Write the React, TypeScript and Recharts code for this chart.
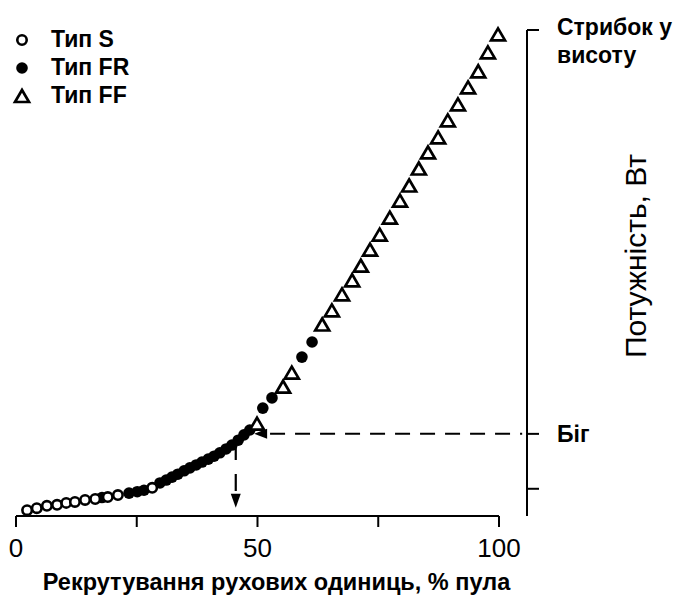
import { ScatterChart, Scatter, XAxis, YAxis, ReferenceLine, ReferenceDot, Legend } from 'recharts'

// Рекрутування, % пула (x) та потужність (y, умовні одиниці)
const sX = [2.3, 4.3, 6.4, 8.5, 10.4, 12.2, 14.3, 16.4, 19.0, 21.1, 28.2]
const sY = [1.2, 1.6, 2.1, 2.3, 2.7, 2.9, 3.3, 3.5, 3.9, 4.3, 5.8]

const frX = [17.8, 23.4, 25.1, 26.5, 29.8, 31.1, 32.3, 33.5, 34.8, 36.0, 37.3, 38.5, 39.8, 41.0, 42.2, 43.5, 44.7, 46.0, 47.2, 48.4, 51.1, 53.0, 59.2, 61.3]
const frY = [3.8, 4.7, 5.0, 5.3, 6.8, 7.4, 8.0, 8.6, 9.3, 9.9, 10.5, 11.1, 11.7, 12.3, 13.0, 13.8, 14.6, 15.6, 16.7, 17.7, 22.2, 24.3, 32.7, 35.8]

const ffX = [49.9, 55.3, 57.1, 63.4, 65.4, 67.5, 69.6, 71.4, 73.3, 75.3, 77.4, 79.5, 81.4, 83.4, 85.3, 87.4, 89.4, 91.5, 93.6, 95.7, 97.7, 99.8]
const ffY = [18.9, 26.5, 29.4, 39.3, 42.2, 45.5, 48.4, 51.4, 54.7, 57.8, 61.3, 64.8, 67.9, 71.4, 74.7, 77.8, 81.3, 84.6, 88.1, 91.4, 95.3, 99.0]

const xTicks = [0, 25, 50, 75, 100]
const xTickLabels = ['0', '', '50', '', '100']
const powerTicks = [5.6, 16.9, 100]
const powerLabels = [[''], ['Біг'], ['Стрибок у', 'висоту']]
const seriesNames = ['Тип S', 'Тип FR', 'Тип FF']

// точка, з якої показано рекрутування під час бігу
const runX = 45.5
const runY = 16.9

const toPoints = (xs: number[], ys: number[]) => xs.map((x, i) => ({ x, y: ys[i] }))

const font = '"Liberation Sans", Arial, sans-serif'

const OpenCircle = (p: any) => <circle cx={p.cx} cy={p.cy} r={4.7} fill="#fff" stroke="#000" strokeWidth={2.6} />
const FilledCircle = (p: any) => <circle cx={p.cx} cy={p.cy} r={5.8} fill="#000" />
const Triangle = (p: any) => (
  <polygon
    points={`${p.cx},${p.cy - 6.5} ${p.cx - 7},${p.cy + 5.5} ${p.cx + 7},${p.cy + 5.5}`}
    fill="#fff"
    stroke="#000"
    strokeWidth={2.7}
  />
)

const ArrowLeft = (p: any) => (
  <polygon points={`${p.cx},${p.cy} ${p.cx + 13},${p.cy - 5} ${p.cx + 13},${p.cy + 5}`} fill="#000" />
)
const ArrowDown = (p: any) => (
  <polygon points={`${p.cx},${p.cy} ${p.cx - 5},${p.cy - 14} ${p.cx + 5},${p.cy - 14}`} fill="#000" />
)

const PowerTick = (props: any) => {
  const { x, y, index } = props
  const lines = powerLabels[index] || ['']
  return (
    <text x={x} y={y} fontFamily={font} fontWeight="bold" fontSize={23} fill="#000">
      {lines.map((l, i) => (
        <tspan key={i} x={x} y={y + (lines.length > 1 ? 5 + i * 28 : 8)}>
          {l}
        </tspan>
      ))}
    </text>
  )
}

const LegendBox = () => {
  const markers = [
    <circle cx={22} cy={40} r={4.7} fill="#fff" stroke="#000" strokeWidth={2.6} />,
    <circle cx={22} cy={68} r={5.8} fill="#000" />,
    <polygon points="22,90 15,102 29,102" fill="#fff" stroke="#000" strokeWidth={2.7} />,
  ]
  return (
    <svg width={160} height={115}>
      {seriesNames.map((n, i) => (
        <g key={n}>
          {markers[i]}
          <text x={51} y={47 + i * 28} fontFamily={font} fontWeight="bold" fontSize={23} fill="#000">
            {n}
          </text>
        </g>
      ))}
    </svg>
  )
}

export default function App() {
  return (
    <div style={{ position: 'absolute', left: 0, top: 0, width: 692, height: 600, background: '#fff' }}>
      <ScatterChart width={692} height={600} margin={{ top: 30, right: 0, left: 16, bottom: 0 }}>
        <XAxis
          type="number"
          dataKey="x"
          domain={[0, 105.8]}
          ticks={xTicks}
          interval={0}
          tickFormatter={(v: number) => xTickLabels[xTicks.indexOf(v)]}
          axisLine={false}
          tickLine={{ stroke: '#000', strokeWidth: 2 }}
          tickSize={11}
          tickMargin={12}
          height={84}
          tick={{ fill: '#000', fontSize: 26, fontFamily: font }}
          label={{
            value: 'Рекрутування рухових одиниць, % пула',
            position: 'insideBottom',
            offset: 10,
            dx: 5,
            style: { fill: '#000', fontSize: 23.5, fontWeight: 'bold', fontFamily: font },
          }}
        />
        <YAxis
          type="number"
          dataKey="y"
          orientation="right"
          domain={[0, 100]}
          ticks={powerTicks}
          interval={0}
          width={165}
          axisLine={{ stroke: '#000', strokeWidth: 2 }}
          tickLine={{ stroke: '#000', strokeWidth: 2 }}
          tickSize={12}
          tickMargin={18}
          tick={<PowerTick />}
          label={{
            value: 'Потужність, Вт',
            angle: -90,
            position: 'center',
            dx: 26,
            dy: -17,
            style: { fill: '#000', fontSize: 30, fontFamily: font, textAnchor: 'middle' },
          }}
        />
        <ReferenceLine segment={[{ x: 0, y: 0 }, { x: 100, y: 0 }]} stroke="#000" strokeWidth={2} />
        <ReferenceLine
          segment={[{ x: 52.6, y: runY }, { x: 104.8, y: runY }]}
          stroke="#000"
          strokeWidth={2}
          strokeDasharray="15 10"
        />
        <ReferenceLine
          segment={[{ x: runX, y: 15.0 }, { x: runX, y: 4.5 }]}
          stroke="#000"
          strokeWidth={2.2}
          strokeDasharray="17 14"
        />
        <ReferenceDot x={49.3} y={runY} shape={ArrowLeft} />
        <ReferenceDot x={runX} y={1.7} shape={ArrowDown} />
        <Legend
          layout="vertical"
          align="center"
          verticalAlign="middle"
          wrapperStyle={{ left: 0, top: 0, width: 160, height: 115 }}
          content={() => <LegendBox />}
        />
        <Scatter name="Тип FR" data={toPoints(frX, frY)} shape={FilledCircle} isAnimationActive={false} />
        <Scatter name="Тип S" data={toPoints(sX, sY)} shape={OpenCircle} isAnimationActive={false} />
        <Scatter name="Тип FF" data={toPoints(ffX, ffY)} shape={Triangle} isAnimationActive={false} />
      </ScatterChart>
    </div>
  )
}
